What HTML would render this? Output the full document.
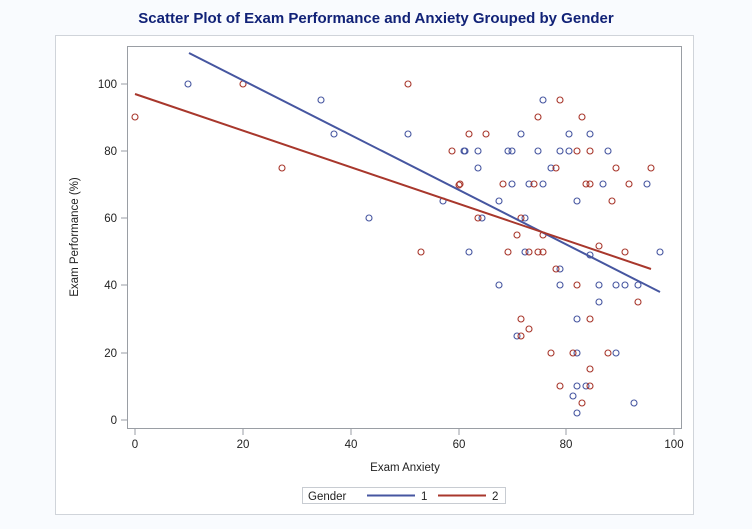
<!DOCTYPE html>
<html><head><meta charset="utf-8"><style>
html,body{margin:0;padding:0;background:#f9fbfe;}
svg{display:block;font-family:"Liberation Sans",Arial,sans-serif;}
</style></head><body>
<svg width="752" height="529" viewBox="0 0 752 529">
<rect x="0" y="0" width="752" height="529" fill="#f9fbfe"/>
<text x="376" y="23" text-anchor="middle" font-size="15" font-weight="bold" fill="#112277">Scatter Plot of Exam Performance and Anxiety Grouped by Gender</text>
<rect x="55.5" y="35.5" width="638" height="479" fill="#fff" stroke="#d0d4da"/>
<rect x="127.5" y="46.5" width="554" height="382" fill="#fff" stroke="#9a9ea4"/>
<g stroke="#9a9ea4">
<line x1="121" x2="127" y1="420" y2="420"/><line x1="121" x2="127" y1="353" y2="353"/><line x1="121" x2="127" y1="285" y2="285"/><line x1="121" x2="127" y1="218" y2="218"/><line x1="121" x2="127" y1="151" y2="151"/><line x1="121" x2="127" y1="84" y2="84"/>
<line x1="135" x2="135" y1="429" y2="435"/><line x1="243" x2="243" y1="429" y2="435"/><line x1="351" x2="351" y1="429" y2="435"/><line x1="459" x2="459" y1="429" y2="435"/><line x1="566" x2="566" y1="429" y2="435"/><line x1="674" x2="674" y1="429" y2="435"/>
</g>
<g font-size="11.5" fill="#222" text-anchor="end">
<text x="117" y="424">0</text><text x="117" y="357">20</text><text x="117" y="289">40</text><text x="117" y="222">60</text><text x="117" y="155">80</text><text x="117" y="88">100</text>
</g>
<g font-size="11.5" fill="#222" text-anchor="middle">
<text x="135" y="448">0</text><text x="243" y="448">20</text><text x="351" y="448">40</text><text x="459" y="448">60</text><text x="566" y="448">80</text><text x="674" y="448">100</text>
<text x="405" y="471">Exam Anxiety</text>
<text transform="translate(78,237) rotate(-90)">Exam Performance (%)</text>
</g>
<g fill="none" stroke-width="1.1">
<g stroke="#4656a0">
<circle cx="188" cy="84" r="3"/><circle cx="321" cy="100" r="3"/><circle cx="334" cy="134" r="3"/><circle cx="369" cy="218" r="3"/><circle cx="408" cy="134" r="3"/><circle cx="443" cy="201" r="3"/><circle cx="465" cy="151" r="3"/>
<circle cx="543" cy="100" r="3"/><circle cx="521" cy="134" r="3"/><circle cx="569" cy="134" r="3"/><circle cx="590" cy="134" r="3"/>
<circle cx="464" cy="151" r="3"/><circle cx="478" cy="151" r="3"/><circle cx="508" cy="151" r="3"/><circle cx="512" cy="151" r="3"/><circle cx="538" cy="151" r="3"/><circle cx="560" cy="151" r="3"/><circle cx="569" cy="151" r="3"/><circle cx="608" cy="151" r="3"/>
<circle cx="478" cy="168" r="3"/><circle cx="551" cy="168" r="3"/>
<circle cx="512" cy="184" r="3"/><circle cx="529" cy="184" r="3"/><circle cx="543" cy="184" r="3"/><circle cx="603" cy="184" r="3"/><circle cx="647" cy="184" r="3"/>
<circle cx="499" cy="201" r="3"/><circle cx="577" cy="201" r="3"/>
<circle cx="482" cy="218" r="3"/><circle cx="525" cy="218" r="3"/>
<circle cx="469" cy="252" r="3"/><circle cx="525" cy="252" r="3"/><circle cx="590" cy="255" r="3"/><circle cx="660" cy="252" r="3"/>
<circle cx="560" cy="269" r="3"/>
<circle cx="499" cy="285" r="3"/><circle cx="560" cy="285" r="3"/><circle cx="599" cy="285" r="3"/><circle cx="616" cy="285" r="3"/><circle cx="625" cy="285" r="3"/><circle cx="638" cy="285" r="3"/>
<circle cx="599" cy="302" r="3"/><circle cx="577" cy="319" r="3"/><circle cx="517" cy="336" r="3"/>
<circle cx="577" cy="353" r="3"/><circle cx="616" cy="353" r="3"/>
<circle cx="577" cy="386" r="3"/><circle cx="586" cy="386" r="3"/><circle cx="573" cy="396" r="3"/><circle cx="634" cy="403" r="3"/><circle cx="577" cy="413" r="3"/>
</g>
<g stroke="#a8372c">
<circle cx="135" cy="117" r="3"/><circle cx="243" cy="84" r="3"/><circle cx="282" cy="168" r="3"/><circle cx="408" cy="84" r="3"/><circle cx="421" cy="252" r="3"/><circle cx="459" cy="185" r="3"/>
<circle cx="560" cy="100" r="3"/><circle cx="538" cy="117" r="3"/><circle cx="582" cy="117" r="3"/>
<circle cx="469" cy="134" r="3"/><circle cx="486" cy="134" r="3"/>
<circle cx="452" cy="151" r="3"/><circle cx="577" cy="151" r="3"/><circle cx="590" cy="151" r="3"/>
<circle cx="556" cy="168" r="3"/><circle cx="616" cy="168" r="3"/><circle cx="651" cy="168" r="3"/>
<circle cx="460" cy="184" r="3"/><circle cx="503" cy="184" r="3"/><circle cx="534" cy="184" r="3"/><circle cx="586" cy="184" r="3"/><circle cx="590" cy="184" r="3"/><circle cx="629" cy="184" r="3"/>
<circle cx="612" cy="201" r="3"/>
<circle cx="478" cy="218" r="3"/><circle cx="521" cy="218" r="3"/>
<circle cx="517" cy="235" r="3"/><circle cx="543" cy="235" r="3"/>
<circle cx="508" cy="252" r="3"/><circle cx="529" cy="252" r="3"/><circle cx="538" cy="252" r="3"/><circle cx="543" cy="252" r="3"/><circle cx="599" cy="246" r="3"/><circle cx="625" cy="252" r="3"/>
<circle cx="556" cy="269" r="3"/>
<circle cx="577" cy="285" r="3"/><circle cx="638" cy="302" r="3"/>
<circle cx="521" cy="319" r="3"/><circle cx="590" cy="319" r="3"/><circle cx="529" cy="329" r="3"/><circle cx="521" cy="336" r="3"/>
<circle cx="551" cy="353" r="3"/><circle cx="573" cy="353" r="3"/><circle cx="608" cy="353" r="3"/>
<circle cx="590" cy="369" r="3"/><circle cx="560" cy="386" r="3"/><circle cx="590" cy="386" r="3"/><circle cx="582" cy="403" r="3"/>
</g>
</g>
<line x1="189" y1="53" x2="660" y2="292" stroke="#4656a0" stroke-width="2"/>
<line x1="135" y1="94" x2="651" y2="269" stroke="#a8372c" stroke-width="2"/>
<rect x="302.5" y="487.5" width="203" height="16" fill="#fff" stroke="#c8ccd2"/>
<text x="308" y="500" font-size="11.5" fill="#222">Gender</text>
<line x1="367" x2="415" y1="495.5" y2="495.5" stroke="#4656a0" stroke-width="2"/>
<text x="421" y="500" font-size="11.5" fill="#222">1</text>
<line x1="438" x2="486" y1="495.5" y2="495.5" stroke="#a8372c" stroke-width="2"/>
<text x="492" y="500" font-size="11.5" fill="#222">2</text>
</svg>
</body></html>
